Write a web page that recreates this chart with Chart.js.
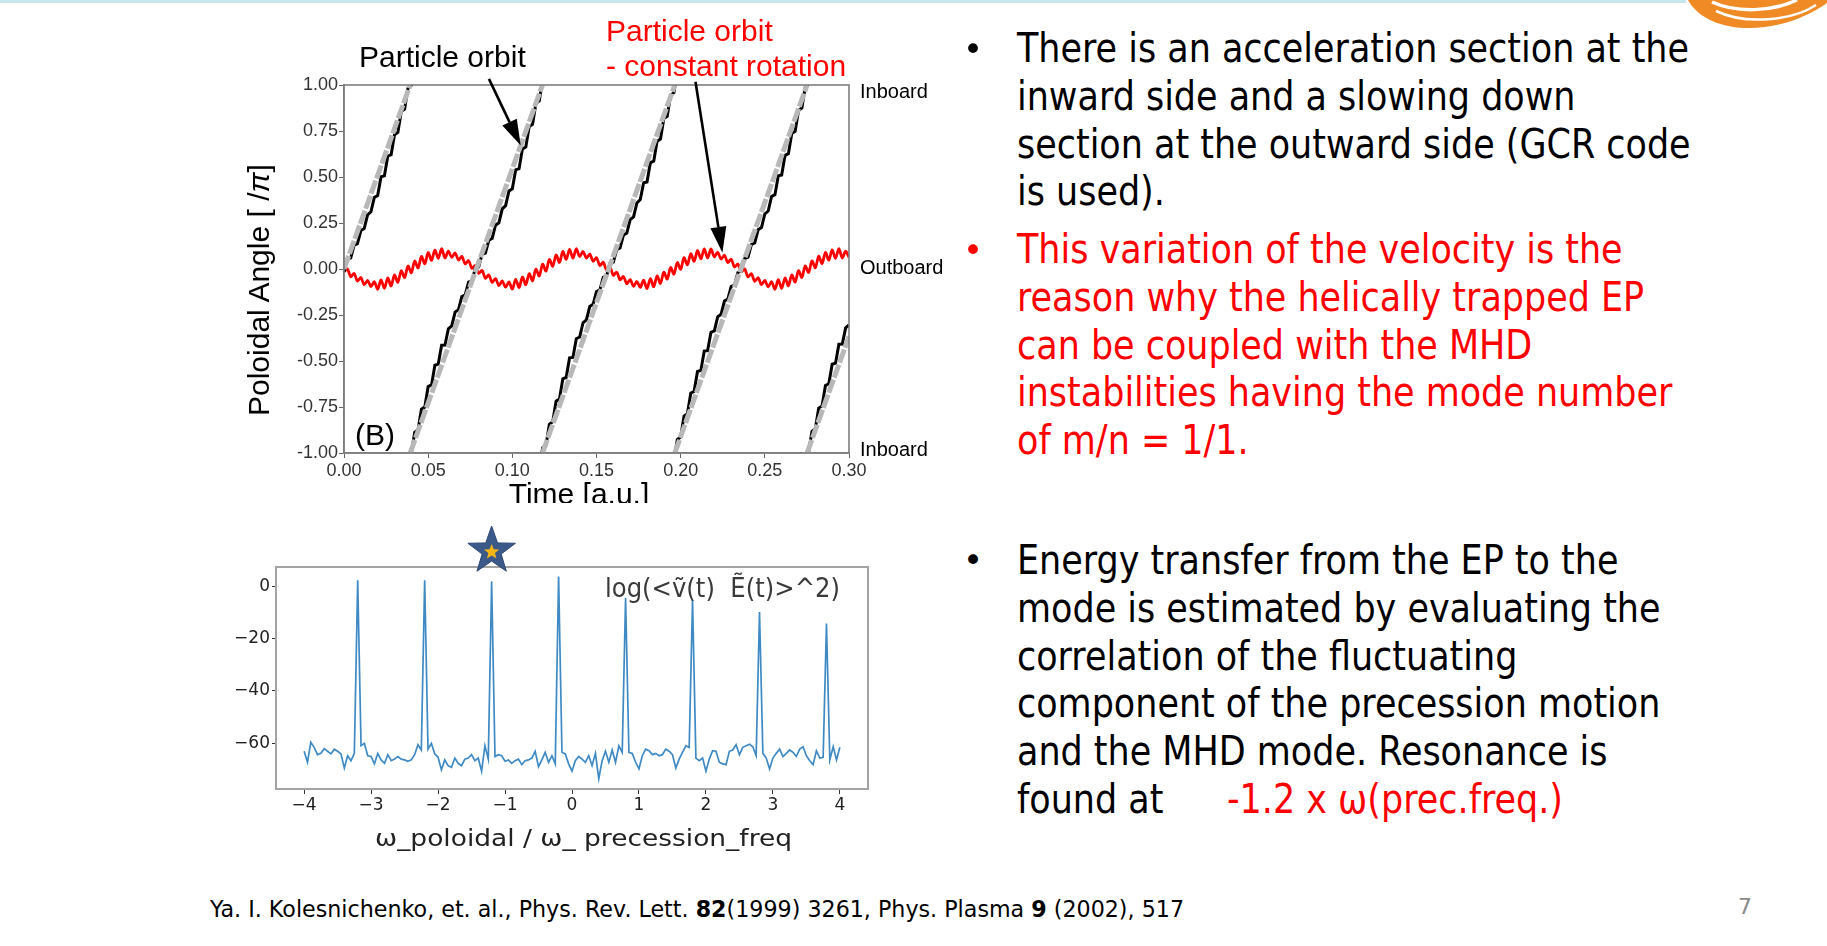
<!DOCTYPE html>
<html lang="en">
<head>
<meta charset="UTF-8">
<title>Particle orbit and resonance</title>
<script src="https://cdn.jsdelivr.net/npm/chart.js@4"></script>
<style>
  * { box-sizing: border-box; margin: 0; padding: 0; }
  body { width: 1827px; height: 946px; background: #fff; position: relative; overflow: hidden;
         font-family: "DejaVu Sans", sans-serif; color: #000; }
  .topline { position: absolute; left: 0; top: 0; width: 1686px; height: 3px; background: #c6e7ee; }
  #logo { position: absolute; left: 1680px; top: 0; }
  .clipbox { position: absolute; left: 0; top: 0; width: 1000px; height: 503px; overflow: hidden; }
  canvas { position: absolute; }
  .lbl { position: absolute; white-space: nowrap; line-height: 1; font-family: "Liberation Sans", Arial, sans-serif; }
  .mid { transform: translate(-50%, -50%); }
  .body { position: absolute; left: 1017px; font-size: 40px; line-height: 47.8px; white-space: nowrap;
          transform-origin: 0 0; }
  .ln { width: max-content; }
  .bul { position: absolute; left: 963px; font-size: 34px; line-height: 47.8px; }
  .red { color: #ff0000; }
  #foot { position: absolute; left: 210px; top: 896px; font-size: 23px; line-height: 26px; white-space: nowrap;
          transform-origin: 0 0; }
  #page { position: absolute; left: 1738px; top: 894px; font-size: 22px; color: #8a8a8a; }
</style>
</head>
<body>
<div class="topline"></div>
<svg id="logo" width="147" height="32" viewBox="1680 0 147 32">
  <path d="M1688,0 C1696,15 1716,27 1745,28 C1776,29 1806,18 1827,3 L1827,0 Z" fill="#f08a24"/>
  <path d="M1712,2 C1736,13 1772,12 1797,0" stroke="#fff" stroke-width="3.5" fill="none"/>
  <path d="M1716,11 C1745,25 1792,21 1816,5" stroke="#fff" stroke-width="2.5" fill="none"/>
</svg>

<div class="clipbox">
  <canvas id="orbit" width="730" height="520" style="left:230px; top:0"></canvas>
  <div class="lbl mid" style="left:579px; top:494px; font-size:30px;">Time [a.u.]</div>
</div>
<div class="lbl" style="left:259px; top:290px; font-size:30px; transform: translate(-50%,-50%) rotate(-90deg);">Poloidal Angle [ /<i>π</i>]</div>
<div class="lbl" style="left:359px; top:42px; font-size:30px;">Particle orbit</div>
<div class="lbl red" style="left:606px; top:16px; font-size:30px;">Particle orbit</div>
<div class="lbl red" style="left:606px; top:51px; font-size:30px;">- constant rotation</div>
<div class="lbl" style="left:860px; top:81px; font-size:20px;">Inboard</div>
<div class="lbl" style="left:860px; top:257px; font-size:20px;">Outboard</div>
<div class="lbl" style="left:860px; top:439px; font-size:20px;">Inboard</div>
<div class="lbl" style="left:355px; top:420px; font-size:30px;">(B)</div>

<canvas id="spectrum" width="720" height="330" style="left:180px; top:520px"></canvas>
<div class="lbl" id="corr" style="left:605px; top:575px; font-size:26px; color:#3a3a3a; font-family:'DejaVu Sans',sans-serif; transform-origin:0 50%;">log(&lt;v&#771;(t)&nbsp; E&#771;(t)&gt;^2)</div>
<div class="lbl" id="wtitle" style="left:375px; top:827px; font-size:23px; color:#222; font-family:'DejaVu Sans',sans-serif; transform-origin:0 50%;">ω_poloidal / ω_ precession_freq</div>

<div class="bul" style="top:26px">•</div>
<div class="body" id="b1" style="top:25px">
  <div class="ln" id="refline">There is an acceleration section at the</div>
  <div class="ln">inward side and a slowing down</div>
  <div class="ln">section at the outward side (GCR code</div>
  <div class="ln">is used).</div>
</div>
<div class="bul red" style="top:227px">•</div>
<div class="body red" id="b2" style="top:226px">
  <div class="ln">This variation of the velocity is the</div>
  <div class="ln">reason why the helically trapped EP</div>
  <div class="ln">can be coupled with the MHD</div>
  <div class="ln">instabilities having the mode number</div>
  <div class="ln">of m/n = 1/1.</div>
</div>
<div class="bul" style="top:537px">•</div>
<div class="body" id="b3" style="top:537px">
  <div class="ln">Energy transfer from the EP to the</div>
  <div class="ln">mode is estimated by evaluating the</div>
  <div class="ln">correlation of the fluctuating</div>
  <div class="ln">component of the precession motion</div>
  <div class="ln">and the MHD mode. Resonance is</div>
  <div class="ln"><span id="foundat" style="display:inline-block">found at</span><span class="red">-1.2 x ω(prec.freq.)</span></div>
</div>

<div id="foot">Ya. I. Kolesnichenko, et. al., Phys. Rev. Lett. <b>82</b>(1999) 3261, Phys. Plasma <b>9</b> (2002), 517</div>
<div id="page">7</div>

<script>
// ---- top panel: poloidal angle [/pi] vs time [a.u.]
const timeTicks = [0, 0.05, 0.10, 0.15, 0.20, 0.25, 0.30];
const angleTicks = [-1, -0.75, -0.5, -0.25, 0, 0.25, 0.5, 0.75, 1];
const orbitStep = 0.002;   // sampling of the orbit traces along time

// particle orbit minus constant rotation (red)
const orbitDeviation = [
  -0.015, 0.001, -0.042, -0.024, -0.066, -0.046, -0.085, -0.062, -0.096, -0.069,
  -0.110, -0.059, -0.105, -0.049, -0.092, -0.033, -0.072, -0.010, -0.047, 0.016,
  -0.020, 0.043, 0.006, 0.068, 0.029, 0.089, 0.047, 0.103, 0.058, 0.110,
  0.060, 0.097, 0.063, 0.087, 0.049, 0.069, 0.028, 0.046, 0.003, 0.019,
  -0.024, -0.008, -0.051, -0.032, -0.073, -0.052, -0.090, -0.065, -0.099, -0.070,
  -0.109, -0.056, -0.101, -0.044, -0.085, -0.025, -0.064, -0.001, -0.038, 0.026,
  -0.011, 0.052, 0.015, 0.076, 0.036, 0.095, 0.052, 0.107, 0.059, 0.110,
  0.068, 0.095, 0.059, 0.081, 0.042, 0.061, 0.019, 0.037, -0.007, 0.010,
  -0.034, -0.017, -0.059, -0.040, -0.080, -0.058, -0.094, -0.068, -0.100, -0.060,
  -0.107, -0.053, -0.096, -0.038, -0.078, -0.017, -0.055, 0.008, -0.028, 0.035,
  -0.002, 0.061, 0.023, 0.083, 0.042, 0.100, 0.055, 0.109, 0.060, 0.109,
  0.066, 0.091, 0.054, 0.075, 0.035, 0.053, 0.011, 0.027, -0.016, 0.000,
  -0.043, -0.025, -0.067, -0.047, -0.085, -0.062, -0.097, -0.069, -0.110, -0.058,
  -0.105, -0.049, -0.091, -0.032, -0.071, -0.009, -0.046, 0.017, -0.019, 0.044,
  0.007, 0.069, 0.030, 0.090, 0.048, 0.104, 0.058, 0.110, 0.060, 0.097,
  0.063
];

// particle orbit (black), one array per sweep from inboard to inboard
const sweepStart = [0, 19, 58, 98, 137];
const sweep1 = [-0.015, 0.052, 0.060, 0.129, 0.138, 0.209, 0.220, 0.294, 0.311, 0.389, 0.399,
  0.501, 0.506, 0.613, 0.621, 0.730, 0.742, 0.855, 0.869, 0.983, 0.998, 1.112];
const sweep2 = [-1.017, -1.002, -0.888, -0.874, -0.762, -0.750, -0.639, -0.630, -0.523, -0.517,
  -0.414, -0.413, -0.325, -0.309, -0.234, -0.221, -0.150, -0.140, -0.071, -0.063, 0.004, 0.012,
  0.079, 0.086, 0.156, 0.166, 0.238, 0.251, 0.327, 0.344, 0.424, 0.436, 0.539, 0.545, 0.653,
  0.663, 0.774, 0.786, 0.900, 0.914, 1.029];
const sweep3 = [-1.086, -0.972, -0.958, -0.844, -0.830, -0.718, -0.707, -0.597, -0.589, -0.483,
  -0.481, -0.379, -0.370, -0.292, -0.277, -0.204, -0.192, -0.122, -0.113, -0.045, -0.038, 0.030,
  0.037, 0.105, 0.114, 0.184, 0.195, 0.268, 0.283, 0.359, 0.378, 0.469, 0.473, 0.578, 0.586,
  0.695, 0.706, 0.818, 0.830, 0.944, 0.959, 1.073];
const sweep4 = [-1.041, -0.927, -0.913, -0.799, -0.786, -0.675, -0.665, -0.557, -0.551, -0.446,
  -0.444, -0.344, -0.336, -0.260, -0.246, -0.174, -0.164, -0.095, -0.086, -0.019, -0.011, 0.056,
  0.064, 0.133, 0.142, 0.213, 0.225, 0.299, 0.315, 0.394, 0.404, 0.507, 0.511, 0.618, 0.627,
  0.736, 0.748, 0.861, 0.875, 0.989, 1.004];
const sweep5 = [-1.011, -0.996, -0.882, -0.868, -0.756, -0.744, -0.633, -0.624, -0.517, -0.512,
  -0.409, -0.408, -0.320, -0.304];

// constant rotation (gray), pairs of segment end points
const rotationTime  = [0, 0.0393, 0.0393, 0.1179, 0.1179, 0.1965, 0.1965, 0.2751, 0.2751, 0.3];
const rotationAngle = [0, 1, -1, 1, -1, 1, -1, 1, -1, -0.366];

// annotation arrows (time, angle)
const arrowTails = [[0.0861, 1.033], [0.2088, 1.018]];
const arrowTips  = [[0.105, 0.671], [0.2248, 0.088]];

// ---- bottom panel: log(<v E>^2) vs omega_pol / omega_prec
const freqTicks = [-4, -3, -2, -1, 0, 1, 2, 3, 4];
const corrTicks = [-60, -40, -20, 0];
const freqStart = -4, freqStep = 0.05;
const corrLog = [
  -63, -67.2, -59.6, -61.5, -64.3, -63.8, -62, -63, -64, -62.2,
  -63, -64, -69.4, -64.7, -66.6, -63.8, 2.2, -60.9, -60, -64.7,
  -65, -67.8, -63.8, -66.3, -67.6, -64.3, -66.6, -66, -65, -66,
  -66.3, -66.8, -66.3, -64.3, -60.5, -62.5, 2.2, -62.2, -60, -64,
  -65.3, -70.1, -66.3, -68.5, -69.1, -65.6, -67.6, -68.5, -66, -65.6,
  -64.3, -66.6, -65.6, -70.6, -60.9, -66, 1.9, -65, -64.3, -64.7,
  -66.8, -66.3, -67.6, -66.6, -66, -68.1, -66.6, -66.3, -65.6, -63,
  -68.9, -66.3, -63.4, -67.2, -64.7, -67.8, 3.7, -63.4, -64, -67.8,
  -70.6, -66.6, -65, -66, -67.2, -64.7, -68.5, -63.8, -73.5, -66.6,
  -63, -67.2, -62.5, -67.2, -60.9, -63.4, -4.4, -63.4, -63.8, -67.2,
  -69.7, -64.7, -62.2, -62.8, -64.3, -63.8, -64.7, -64.3, -62.2, -63,
  -64.3, -69.4, -66, -63.4, -60.9, -61.5, -5.4, -65.6, -66.6, -65.6,
  -70.6, -66, -62.8, -63, -67.2, -67.8, -68.1, -63, -62.5, -60.5,
  -64.3, -61.5, -60.9, -60.3, -61.3, -64.7, -9.9, -63.8, -65.6, -69.7,
  -65.6, -63.8, -62.2, -65, -63.8, -62.5, -63.4, -65, -62.2, -61.3,
  -64.7, -66.6, -68.1, -62.8, -65.6, -65.3, -14.3, -66.3, -61.3, -66.3,
  -61.5
];
const resonanceX = -1.2;

// ---- helpers
const atStep = (start, step, i) => Math.round((start + step * i) * 10000) / 10000;
const fixedTicks = list => scale => { scale.ticks = list.map(v => ({ value: v })); };

const rotationData = [];
for (let i = 0; i < rotationTime.length; i += 2) {
  rotationData.push({ x: rotationTime[i], y: rotationAngle[i] },
                    { x: rotationTime[i + 1], y: rotationAngle[i + 1] });
  if (i + 2 < rotationTime.length) rotationData.push({ x: rotationTime[i + 1], y: null });
}
const sweepData = [sweep1, sweep2, sweep3, sweep4, sweep5].map((vals, k) =>
  vals.map((v, j) => ({ x: atStep(0, orbitStep, sweepStart[k] + j), y: v })));

const framePlugin = {
  id: 'frame',
  afterDraw(chart, args, opts) {
    const { ctx, chartArea: a } = chart;
    ctx.save();
    ctx.strokeStyle = opts.color; ctx.lineWidth = opts.width;
    ctx.strokeRect(a.left, a.top, a.right - a.left, a.bottom - a.top);
    ctx.restore();
  }
};

const arrowPlugin = {
  id: 'arrows',
  afterDraw(chart) {
    const { ctx, scales: { x, y } } = chart;
    ctx.save();
    ctx.strokeStyle = '#000'; ctx.fillStyle = '#000'; ctx.lineWidth = 2.6;
    arrowTails.forEach((tail, k) => {
      const x0 = x.getPixelForValue(tail[0]), y0 = y.getPixelForValue(tail[1]);
      const x1 = x.getPixelForValue(arrowTips[k][0]), y1 = y.getPixelForValue(arrowTips[k][1]);
      const a = Math.atan2(y1 - y0, x1 - x0), len = 26, half = 8;
      const bx = x1 - len * Math.cos(a), by = y1 - len * Math.sin(a);
      ctx.beginPath(); ctx.moveTo(x0, y0); ctx.lineTo(bx, by); ctx.stroke();
      ctx.beginPath(); ctx.moveTo(x1, y1);
      ctx.lineTo(bx + half * Math.sin(a), by - half * Math.cos(a));
      ctx.lineTo(bx - half * Math.sin(a), by + half * Math.cos(a));
      ctx.closePath(); ctx.fill();
    });
    ctx.restore();
  }
};

function starPath(ctx, cx, cy, R, r) {
  ctx.beginPath();
  for (let k = 0; k < 10; k++) {
    const rad = k % 2 ? r : R, ang = -Math.PI / 2 + k * Math.PI / 5;
    ctx.lineTo(cx + rad * Math.cos(ang), cy + rad * Math.sin(ang));
  }
  ctx.closePath();
}
const starPlugin = {
  id: 'star',
  afterDraw(chart) {
    const { ctx, chartArea, scales: { x } } = chart;
    const cx = x.getPixelForValue(resonanceX), cy = chartArea.top - 16;
    ctx.save();
    starPath(ctx, cx, cy, 25, 10);
    ctx.fillStyle = '#3b5a8a'; ctx.fill();
    ctx.strokeStyle = '#2c4670'; ctx.lineWidth = 1; ctx.stroke();
    starPath(ctx, cx, cy + 1, 8, 3.5);
    ctx.fillStyle = '#f3b416'; ctx.fill();
    ctx.restore();
  }
};

const tickFontTop = { family: '"Liberation Sans", Arial, sans-serif', size: 18 };

new Chart(document.getElementById('orbit'), {
  type: 'line',
  data: {
    datasets: [
      { data: rotationData, borderColor: '#b8b8b8', borderWidth: 5, borderDash: [14, 2], spanGaps: false, clip: 0 },
      ...sweepData.map(d => ({ data: d, borderColor: '#000', borderWidth: 3, clip: 0 })),
      { data: orbitDeviation.map((v, i) => ({ x: atStep(0, orbitStep, i), y: v })),
        borderColor: '#ff0000', borderWidth: 2.8, tension: 0.3, clip: 0 }
    ]
  },
  options: {
    responsive: false, animation: false, events: [],
    layout: { padding: { left: 10, right: 111, top: 85, bottom: 0 } },
    elements: { point: { radius: 0 }, line: { tension: 0 } },
    plugins: { legend: { display: false }, tooltip: { enabled: false },
               frame: { color: '#7d7d7d', width: 1.6 } },
    scales: {
      x: {
        type: 'linear', min: 0, max: 0.3,
        afterBuildTicks: fixedTicks(timeTicks),
        afterFit: s => { s.height = 67; },
        ticks: { font: tickFontTop, color: '#333', padding: 2, maxRotation: 0, autoSkip: false,
                 callback: v => v.toFixed(2) },
        grid: { drawOnChartArea: false, tickLength: 5, color: '#666' },
        border: { color: '#7d7d7d', width: 1.6 }
      },
      y: {
        type: 'linear', min: -1, max: 1,
        afterBuildTicks: fixedTicks(angleTicks),
        afterFit: s => { s.width = 104; },
        ticks: { font: tickFontTop, color: '#333', padding: 1, autoSkip: false,
                 callback: v => v.toFixed(2) },
        grid: { drawOnChartArea: false, tickLength: 5, color: '#666' },
        border: { color: '#7d7d7d', width: 1.6 }
      }
    }
  },
  plugins: [framePlugin, arrowPlugin]
});

const tickFontBottom = { family: '"DejaVu Sans", sans-serif', size: 17 };
new Chart(document.getElementById('spectrum'), {
  type: 'line',
  data: {
    datasets: [{
      data: corrLog.map((v, i) => ({ x: atStep(freqStart, freqStep, i), y: v })),
      borderColor: '#3f8ac4', borderWidth: 1.7, clip: 0
    }]
  },
  options: {
    responsive: false, animation: false, events: [],
    layout: { padding: { left: 0, right: 32, top: 47, bottom: 0 } },
    elements: { point: { radius: 0 }, line: { tension: 0 } },
    plugins: { legend: { display: false }, tooltip: { enabled: false },
               frame: { color: '#a3a3a3', width: 2 } },
    scales: {
      x: {
        type: 'linear', min: -4.42, max: 4.42,
        afterBuildTicks: fixedTicks(freqTicks),
        afterFit: s => { s.height = 61; },
        ticks: { font: tickFontBottom, color: '#222', padding: 1, maxRotation: 0, autoSkip: false,
                 callback: v => String(v).replace('-', '\u2212') },
        grid: { drawOnChartArea: false, tickLength: 5, color: '#333' },
        border: { color: '#a3a3a3', width: 2 }
      },
      y: {
        type: 'linear', min: -77.4, max: 7.3,
        afterBuildTicks: fixedTicks(corrTicks),
        afterFit: s => { s.width = 96; },
        ticks: { font: tickFontBottom, color: '#222', padding: 2, autoSkip: false,
                 callback: v => String(v).replace('-', '\u2212') },
        grid: { drawOnChartArea: false, tickLength: 4, color: '#333' },
        border: { color: '#a3a3a3', width: 2 }
      }
    }
  },
  plugins: [framePlugin, starPlugin]
});

// squeeze the slide text to the narrow widths of the original
function fitWidth(el, target) {
  const w = el.getBoundingClientRect().width;
  el.style.transform = 'scaleX(' + (target / w) + ')';
  return target / w;
}
const bodyScale = 672 / document.getElementById('refline').getBoundingClientRect().width;
document.getElementById('foundat').style.width = (210 / bodyScale) + 'px';
['b1', 'b2', 'b3'].forEach(id => {
  document.getElementById(id).style.transform = 'scaleX(' + bodyScale + ')';
});
fitWidth(document.getElementById('foot'), 974);
fitWidth(document.getElementById('corr'), 235);
fitWidth(document.getElementById('wtitle'), 417);
</script>
</body>
</html>
